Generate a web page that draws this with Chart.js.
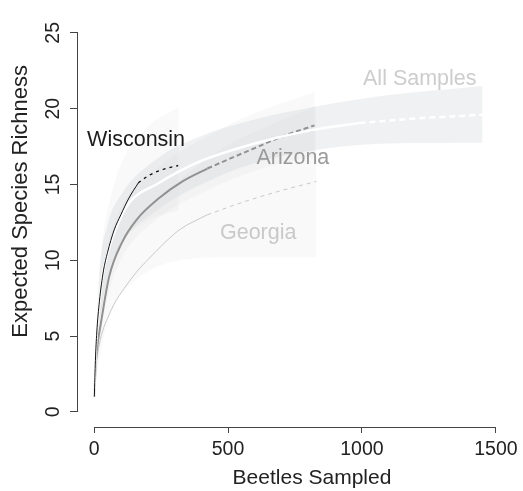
<!DOCTYPE html>
<html>
<head>
<meta charset="utf-8">
<script src="https://cdn.jsdelivr.net/npm/chart.js@4.4.1/dist/chart.umd.min.js"></script>
<style>
  html, body { margin: 0; padding: 0; background: #fff; }
  canvas { display: block; }
</style>
</head>
<body>
<canvas id="chart" width="523" height="491"></canvas>
<script>
// Rarefaction curves: expected species richness vs beetles sampled
const xTicks = [0, 500, 1000, 1500];
const yTicks = [0, 5, 10, 15, 20, 25];

// observed part (solid) and extrapolated part (dashed) of each curve
const wisX = [1, 5, 10, 20, 35, 50, 75, 100, 130, 165];
const wisY = [1, 3.4, 5.2, 7.3, 9.3, 10.5, 12.0, 13.0, 14.1, 15.1];
const wisExtX = [165, 200, 250, 314];
const wisExtY = [15.1, 15.55, 15.95, 16.25];

const ariX = [1, 5, 10, 26, 56, 105, 160, 243, 330, 423];
const ariY = [1, 2.8, 4.0, 5.9, 8.9, 11.2, 12.7, 14.1, 15.2, 16.05];
const ariExtX = [423, 500, 600, 700, 823];
const ariExtY = [16.05, 16.65, 17.4, 18.15, 18.9];

const geoX = [1, 8, 19, 56, 131, 232, 318, 423];
const geoY = [1, 3.0, 4.4, 6.4, 8.6, 10.6, 12.0, 13.0];
const geoExtX = [423, 550, 700, 830];
const geoExtY = [13.0, 13.8, 14.6, 15.2];

const allX = [1, 7, 19, 30, 56, 94, 131, 232, 393, 600, 816, 991];
const allY = [1, 4.3, 7.0, 8.8, 10.8, 12.6, 13.8, 15.0, 16.5, 17.7, 18.6, 19.05];
const allExtX = [991, 1200, 1450];
const allExtY = [19.05, 19.35, 19.6];

// confidence bands
const wisBandX = [1, 10, 30, 60, 100, 200, 316];
const wisBandLo = [1, 4, 7, 9.5, 11, 12.6, 13.3];
const wisBandHi = [1, 6.5, 11, 14, 16.3, 18.8, 20.1];

const ariBandX = [1, 20, 50, 100, 243, 423, 600, 823];
const ariBandLo = [1, 4.5, 7.5, 10, 12.8, 14.6, 15.9, 16.9];
const ariBandHi = [1, 7.5, 11, 13.5, 16.2, 18.2, 19.7, 21.1];

const geoBandX = [1, 20, 60, 150, 318, 500, 830];
const geoBandLo = [1, 3.5, 6.5, 8.6, 10.0, 10.2, 10.2];
const geoBandHi = [1, 6, 9.5, 12.5, 15.3, 17.6, 20.2];

const allBandX = [1, 20, 50, 100, 243, 400, 580, 879, 1100, 1450];
const allBandLo = [1, 5.5, 8.8, 11, 13.4, 15, 16.3, 17.4, 17.7, 17.75];
const allBandHi = [1, 9, 12.3, 14.3, 16.8, 18.2, 19.2, 20.3, 20.9, 21.5];

// curve names, placed at data coordinates
const seriesNames = ['Wisconsin', 'Arizona', 'Georgia', 'All Samples'];
const nameX = [-26, 606, 470, 1004];
const nameY = [17.9, 16.74, 11.78, 21.94];

const FONT = '"Liberation Sans", Arial, Helvetica, sans-serif';
const nameColors = ['#1c1c1c', '#9a9a9a', '#c9c9c9', '#cdcdcd'];

function pts(xs, ys) {
  return xs.map((x, i) => ({ x: x, y: ys[i] }));
}

// lower order is drawn on top
function line(xs, ys, color, width, dash, order) {
  return {
    data: pts(xs, ys),
    borderColor: color,
    borderWidth: width,
    borderDash: dash || [],
    pointRadius: 0,
    fill: false,
    cubicInterpolationMode: 'monotone',
    order: order
  };
}

function bandPair(xs, lo, hi, color) {
  return [
    { data: pts(xs, hi), borderWidth: 0, borderColor: 'rgba(0,0,0,0)', pointRadius: 0,
      fill: false, cubicInterpolationMode: 'monotone', order: 10 },
    { data: pts(xs, lo), borderWidth: 0, borderColor: 'rgba(0,0,0,0)', pointRadius: 0,
      fill: '-1', backgroundColor: color, cubicInterpolationMode: 'monotone', order: 10 }
  ];
}

const datasets = [].concat(
  bandPair(allBandX, allBandLo, allBandHi, 'rgba(205,207,212,0.3)'),
  bandPair(geoBandX, geoBandLo, geoBandHi, 'rgba(200,200,200,0.1)'),
  bandPair(ariBandX, ariBandLo, ariBandHi, 'rgba(200,200,200,0.1)'),
  bandPair(wisBandX, wisBandLo, wisBandHi, 'rgba(200,200,200,0.1)'),
  [
    line(geoX, geoY, '#c8c8c8', 1, null, 5),
    line(geoExtX, geoExtY, '#c8c8c8', 1, [4, 4], 5),
    line(ariX, ariY, '#929292', 2, null, 4),
    line(ariExtX, ariExtY, '#929292', 2, [5, 3], 4),
    line(allX, allY, '#ffffff', 2.5, null, 3),
    line(allExtX, allExtY, '#ffffff', 2.5, [6, 4], 3),
    line(wisX, wisY, '#111111', 1, null, 1),
    line(wisExtX, wisExtY, '#111111', 1.3, [3, 4], 1)
  ]
);

// axis lines (between first and last tick, R style), axis titles, curve names
const overlay = {
  id: 'overlay',
  afterDraw(chart) {
    const { ctx, chartArea, scales: { x, y } } = chart;
    ctx.save();
    ctx.strokeStyle = '#444';
    ctx.lineWidth = 1;
    ctx.beginPath();
    const ax = Math.round(chartArea.left) - 0.5;
    ctx.moveTo(ax, y.getPixelForValue(yTicks[0]));
    ctx.lineTo(ax, y.getPixelForValue(yTicks[yTicks.length - 1]));
    const ay = Math.round(chartArea.bottom) + 0.5;
    ctx.moveTo(x.getPixelForValue(xTicks[0]), ay);
    ctx.lineTo(x.getPixelForValue(xTicks[xTicks.length - 1]), ay);
    ctx.stroke();

    ctx.fillStyle = '#222';
    ctx.font = '21px ' + FONT;
    ctx.textAlign = 'center';
    ctx.textBaseline = 'middle';
    ctx.fillText('Beetles Sampled', (chartArea.left + chartArea.right) / 2 + 17, 478);
    ctx.font = '22px ' + FONT;
    ctx.translate(21, (chartArea.top + chartArea.bottom) / 2 - 21);
    ctx.rotate(-Math.PI / 2);
    ctx.fillText('Expected Species Richness', 0, 0);
    ctx.setTransform(1, 0, 0, 1, 0, 0);

    ctx.font = '21.5px ' + FONT;
    ctx.textAlign = 'left';
    seriesNames.forEach(function (name, i) {
      ctx.fillStyle = nameColors[i];
      ctx.fillText(name, x.getPixelForValue(nameX[i]), y.getPixelForValue(nameY[i]));
    });
    ctx.restore();
  }
};

new Chart(document.getElementById('chart'), {
  type: 'line',
  data: { datasets: datasets },
  options: {
    responsive: false,
    animation: false,
    events: [],
    layout: { padding: { top: 12, right: 11, left: 0, bottom: 0 } },
    plugins: { legend: { display: false }, tooltip: { enabled: false } },
    scales: {
      x: {
        type: 'linear',
        min: -60,
        max: 1560,
        afterBuildTicks: function (s) { s.ticks = xTicks.map(v => ({ value: v })); },
        afterFit: function (s) { s.height = 64; },
        border: { display: false },
        grid: { drawOnChartArea: false, drawTicks: true, tickLength: 6, color: '#444' },
        ticks: { padding: 5, maxRotation: 0, color: '#222', font: { family: FONT, size: 19.5 },
          callback: function (v) { return String(v); } }
      },
      y: {
        type: 'linear',
        min: -1,
        max: 26,
        afterBuildTicks: function (s) { s.ticks = yTicks.map(v => ({ value: v })); },
        afterFit: function (s) { s.width = 78; },
        border: { display: false },
        grid: { drawOnChartArea: false, drawTicks: true, tickLength: 8, color: '#444' },
        ticks: { minRotation: 90, maxRotation: 90, crossAlign: 'center', padding: 6,
          color: '#222', font: { family: FONT, size: 19.5 },
          callback: function (v) { return String(v); } }
      }
    }
  },
  plugins: [overlay]
});
</script>
</body>
</html>
